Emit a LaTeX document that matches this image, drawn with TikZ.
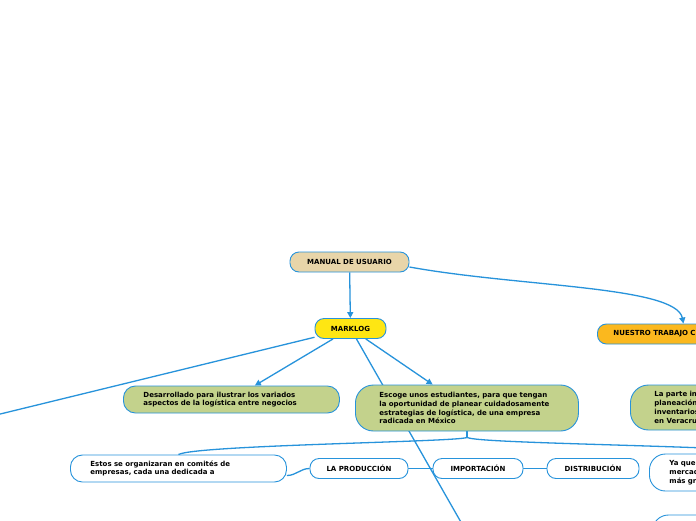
\documentclass[tikz,border=0pt]{standalone}
\usepackage{fontspec}
\setmainfont{DejaVu Sans}
\usetikzlibrary{arrows.meta, backgrounds}
\definecolor{lineblue}{HTML}{2793DB}
\definecolor{tanfill}{HTML}{E8D5A9}
\definecolor{markyellow}{HTML}{FEE613}
\definecolor{orangefill}{HTML}{FBB81E}
\definecolor{greenfill}{HTML}{C3D28C}

\tikzset{
  topic/.style={draw=lineblue, line width=0.9pt, rounded corners=9pt, inner sep=0pt,
    minimum height=20pt, font=\fontsize{7}{8.8}\selectfont\bfseries},
  leaf/.style={topic, align=left, anchor=west, inner xsep=20pt, inner ysep=0pt},
  link/.style={draw=lineblue, line width=1.3pt},
  arrowto/.style={-{Triangle[width=6pt,length=6pt]}}
}

\begin{document}
\begin{tikzpicture}[x=1pt, y=-1pt]
    \useasboundingbox (0,0) rectangle (696,520);
    \clip (0,0) rectangle (696,520);

    \node[topic, fill=tanfill, minimum width=119pt] (manual) at (349.5,262) {MANUAL DE USUARIO};
    \node[topic, fill=markyellow, minimum width=71pt] (marklog) at (350.5,328.5) {MARKLOG};
    \node[leaf, fill=orangefill, inner xsep=16pt, text width=108pt] (trabajo) at (597,334) {NUESTRO TRABAJO C};

    \node[leaf, fill=greenfill, text width=176pt, minimum height=27pt, rounded corners=12pt] (desarrollo) at (123,399.5)
        {Desarrollado para ilustrar los variados\\aspectos de la logística entre negocios};
    \node[leaf, fill=greenfill, text width=175pt, inner xsep=24pt, minimum height=46pt, rounded corners=18pt] (escoge) at (355,408)
        {Escoge unos estudiantes, para que tengan\\la oportunidad de planear cuidadosamente\\estrategias de logística, de una empresa\\radicada en México};
    \node[leaf, fill=greenfill, text width=60pt, inner xsep=24pt, minimum height=45pt, rounded corners=18pt] (parte) at (630,407.5)
        {La parte in\\planeación\\inventarios\\en Veracru};

    \node[leaf, fill=white, text width=176pt, minimum height=27pt, rounded corners=12pt] (comites) at (70,468.5)
        {Estos se organizaran en comités de\\empresas, cada una dedicada a};
    \node[topic, fill=white, minimum width=98pt] (produccion) at (359,468.5) {LA PRODUCCIÓN};
    \node[topic, fill=white, minimum width=90pt] (importacion) at (478,468.5) {IMPORTACIÓN};
    \node[topic, fill=white, minimum width=92pt] (distribucion) at (593,468.5) {DISTRIBUCIÓN};
    \node[leaf, fill=white, text width=60pt, minimum height=37pt, rounded corners=16pt] (yaque) at (649,472.5)
        {Ya que\\mercad\\más gr};
    \node[leaf, fill=white, text width=60pt, minimum height=30pt, rounded corners=16pt] (siguiente) at (652,530) {};

    \coordinate (izq) at (-10,416.5);
    \coordinate (abajo) at (462,524);
    \coordinate (der) at (705,448);

    \begin{scope}[on background layer]
        \fill[white] (0,0) rectangle (696,520);
        \draw[link, arrowto] (manual) -- (marklog);
        \draw[link, arrowto] ([yshift=-5pt]manual.east) .. controls (520,287) and (676,286) .. ([xshift=16pt]trabajo.north);
        \draw[link] (marklog) -- (izq);
        \draw[link, arrowto] (marklog) -- (desarrollo);
        \draw[link, arrowto] (marklog) -- (escoge);
        \draw[link] (marklog) -- (abajo);
        % ramas de la estrategia
        \draw[link] (escoge.south) -- ++(0,6) coordinate (fork);
        \draw[link] (fork) .. controls (458,442) and (195,445) .. (comites.north);
        \draw[link] (fork) .. controls (476,442) and (600,444) .. (der);
        \draw[link] ([yshift=-7pt]comites.east) to[out=0, in=180] (produccion.west);
        \draw[link] (produccion) -- (importacion);
        \draw[link] (importacion) -- (distribucion);
    \end{scope}
\end{tikzpicture}
\end{document}
